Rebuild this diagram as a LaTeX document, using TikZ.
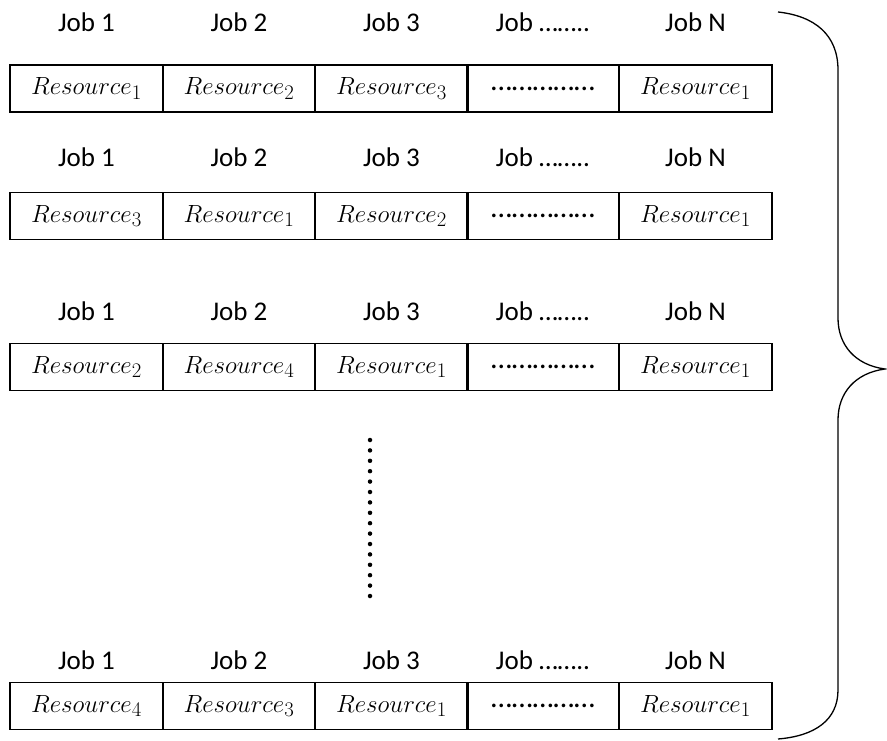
\documentclass[tikz,border=0pt]{standalone}
\usepackage{fontspec}
\setmainfont{Carlito}
\begin{document}
\begin{tikzpicture}[x=1pt,y=-1pt,
  cell/.style={draw,line width=1.6pt,minimum width=152.5pt,minimum height=47pt,inner sep=0pt,font=\fontsize{28}{30}\selectfont},
  dotcell/.style={cell,font=\fontsize{30}{32}\selectfont},
  joblbl/.style={inner sep=0pt,font=\fontsize{27}{29}\selectfont}]
\useasboundingbox (0,0) rectangle (887,741);
\foreach \r/\ly/\by/\a/\b/\c/\d in {1/22/88.5/1/2/3/1, 2/157/216/3/1/2/1, 3/311/367/2/4/1/1, 4/660/706/4/3/1/1}{
  \node[joblbl] (j\r-1) at (86.5,\ly) {Job 1};
  \node[joblbl] (j\r-2) at (239,\ly) {Job 2};
  \node[joblbl] (j\r-3) at (391.5,\ly) {Job 3};
  \node[joblbl] (j\r-4) at (543,\ly) {Job ……..};
  \node[joblbl] (j\r-5) at (695.5,\ly) {Job N};
  \node[cell] (c\r-1) at (86.5,\by) {$Resource_{\a}$};
  \node[cell] (c\r-2) at (239,\by) {$Resource_{\b}$};
  \node[cell] (c\r-3) at (391.5,\by) {$Resource_{\c}$};
  \node[dotcell] (c\r-4) at (543,\by) {\raisebox{-2pt}{……………}};
  \node[cell] (c\r-5) at (695.5,\by) {$Resource_{\d}$};
}
\draw[line width=4.5pt,line cap=round,dash pattern=on 0pt off 10.4pt] (370,440) -- (370,596);
\draw[line width=1.3pt] (778,12) .. controls (815,16) and (838,35) .. (838,70)
  -- (838,318) .. controls (838,345) and (855,365) .. (885,369)
  .. controls (855,373) and (838,393) .. (838,420)
  -- (838,690) .. controls (838,720) and (815,736) .. (778,739);
\end{tikzpicture}
\end{document}
